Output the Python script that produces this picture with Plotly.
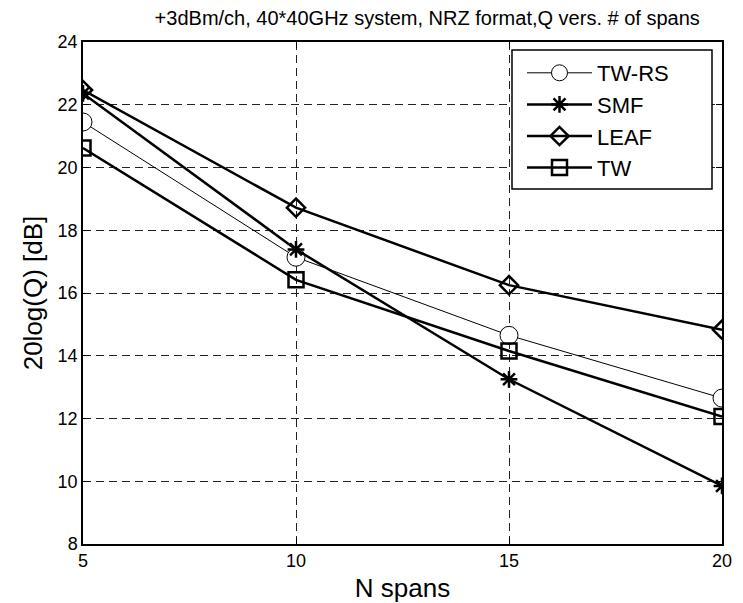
import plotly.graph_objects as go

spans = [5, 10, 15, 20]
tw_rs = [21.45, 17.14, 14.65, 12.65]
smf = [22.36, 17.39, 13.25, 9.85]
leaf = [22.47, 18.72, 16.25, 14.83]
tw = [20.62, 16.42, 14.15, 12.06]

title = "+3dBm/ch, 40*40GHz system, NRZ format,Q vers. # of spans"
font = "Liberation Sans, Arial, sans-serif"

# plot area in pixels
L, R, T, B = 83, 722, 42, 544
W, H = 743, 603

fig = go.Figure()
fig.add_trace(go.Scatter(x=spans, y=tw_rs, name="TW-RS", mode="lines+markers",
                         line=dict(color="black", width=1),
                         marker=dict(symbol="circle", size=18, color="white",
                                     line=dict(color="black", width=1))))
fig.add_trace(go.Scatter(x=spans, y=smf, name="SMF", mode="lines+markers",
                         line=dict(color="black", width=2.5),
                         marker=dict(symbol="asterisk-open", size=14, color="black",
                                     line=dict(color="black", width=2.5))))
fig.add_trace(go.Scatter(x=spans, y=leaf, name="LEAF", mode="lines+markers",
                         line=dict(color="black", width=2.5),
                         marker=dict(symbol="diamond-open", size=14, color="black",
                                     line=dict(color="black", width=2.5))))
fig.add_trace(go.Scatter(x=spans, y=tw, name="TW", mode="lines+markers",
                         line=dict(color="black", width=2.5),
                         marker=dict(symbol="square-open", size=15, color="black",
                                     line=dict(color="black", width=2.5))))

axis_common = dict(showline=True, linecolor="black", linewidth=1.5, mirror="ticks",
                   ticks="inside", ticklen=6, tickcolor="black", tickwidth=1,
                   showgrid=True, gridcolor="#222", griddash="8px,5px", gridwidth=1,
                   zeroline=False, automargin=False,
                   tickfont=dict(family=font, size=18, color="black"))

def px_x(p):
    return (p - L) / (R - L)

def px_y(p):
    return (B - p) / (B - T)

fig.add_shape(type="rect", xref="paper", yref="paper",
              x0=px_x(512), x1=px_x(712), y0=px_y(189), y1=px_y(50),
              fillcolor="white", line=dict(color="black", width=1.5), layer="above")

fig.update_layout(
    width=W, height=H,
    margin=dict(l=L, r=W - R, t=T, b=H - B),
    paper_bgcolor="white", plot_bgcolor="white",
    title=dict(text=title, x=0.575, xanchor="center", y=1 - 18 / H, yanchor="middle",
               font=dict(family=font, size=20, color="black")),
    xaxis=dict(range=[5, 20], tickvals=[5, 10, 15, 20],
               title=dict(text="N spans", font=dict(family=font, size=26, color="black"), standoff=14),
               **axis_common),
    yaxis=dict(range=[8, 24], tickvals=list(range(8, 25, 2)),
               title=dict(text="20log(Q) [dB]", font=dict(family=font, size=26, color="black"), standoff=8),
               **axis_common),
    legend=dict(x=px_x(522), y=px_y(52), xanchor="left", yanchor="top",
                bgcolor="rgba(0,0,0,0)", borderwidth=0,
                font=dict(family=font, size=22, color="black"),
                itemwidth=65, tracegroupgap=0),
    showlegend=True,
)

fig.write_html("out.html")
